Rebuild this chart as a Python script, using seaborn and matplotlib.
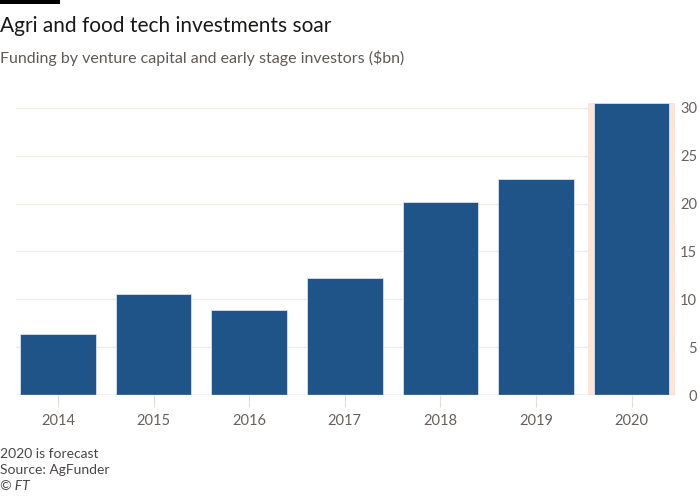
import matplotlib
matplotlib.use("Agg")
import matplotlib.pyplot as plt
from matplotlib.patches import Rectangle
import seaborn as sns
import pandas as pd

years = ["2014", "2015", "2016", "2017", "2018", "2019", "2020"]
funding = [6.4, 10.6, 8.9, 12.2, 20.2, 22.6, 30.5]
y_ticks = [0, 5, 10, 15, 20, 25, 30]
highlight_year = "2020"

title = "Agri and food tech investments soar"
subtitle = "Funding by venture capital and early stage investors ($bn)"
notes = ["2020 is forecast", "Source: AgFunder"]
credit = "© FT"

sns.set_theme(style="white")
plt.rcParams["font.family"] = ["Lato", "DejaVu Sans"]

df = pd.DataFrame({"year": years, "funding": funding})

fig = plt.figure(figsize=(7, 5), dpi=100, facecolor="white")
ax = fig.add_axes([16 / 700, 1 - 395.3 / 500, (675 - 16) / 700, (395.3 - 102.9) / 500])
ax.set_facecolor("white")

hi = years.index(highlight_year)
ax.axvspan(hi - 0.455, hi + 0.455, color="#fde6d8", zorder=0, lw=0)

for t in y_ticks[1:]:
    ax.axhline(t, color="#efebe7", lw=1, zorder=0.5)

sns.barplot(data=df, x="year", y="funding", color="#1f5489", saturation=1,
            width=0.79, edgecolor="#d6e1ee", linewidth=0.6, ax=ax, zorder=2)

ax.axhline(0, color="#c9bdb5", lw=1, zorder=3)
ax.set_xlim(-0.44, 6.455)
ax.set_ylim(0, 30.5)
ax.set_yticks(y_ticks)
ax.set_xlabel("")
ax.set_ylabel("")
for s in ax.spines.values():
    s.set_visible(False)

ax.tick_params(axis="y", left=False, labelleft=False, right=True, labelright=True,
               length=0, pad=16, labelsize=10.5, labelcolor="#66605c")
for lab in ax.get_yticklabels():
    lab.set_horizontalalignment("right")
ax.tick_params(axis="x", bottom=True, length=8.6, width=0.8, color="#e3ddd8",
               pad=5, labelsize=10.5, labelcolor="#66605c")

fig.add_artist(Rectangle((0, 1 - 4 / 500), 60 / 700, 4 / 500, transform=fig.transFigure,
                         color="black", lw=0))
fig.text(0, 1 - 31.5 / 500, title, fontsize=15, color="#1a1817", va="baseline", ha="left")
fig.text(0, 1 - 63.5 / 500, subtitle, fontsize=11.5, color="#5e5a57", va="baseline", ha="left")
fig.text(0, 1 - 458.5 / 500, notes[0], fontsize=10, color="#4a4645", va="baseline")
fig.text(0, 1 - 474.5 / 500, notes[1], fontsize=10, color="#4a4645", va="baseline")
fig.text(0, 1 - 490.5 / 500, credit, fontsize=10, color="#4a4645", va="baseline", style="italic")

fig.savefig("out.png", dpi=100, facecolor="white")
